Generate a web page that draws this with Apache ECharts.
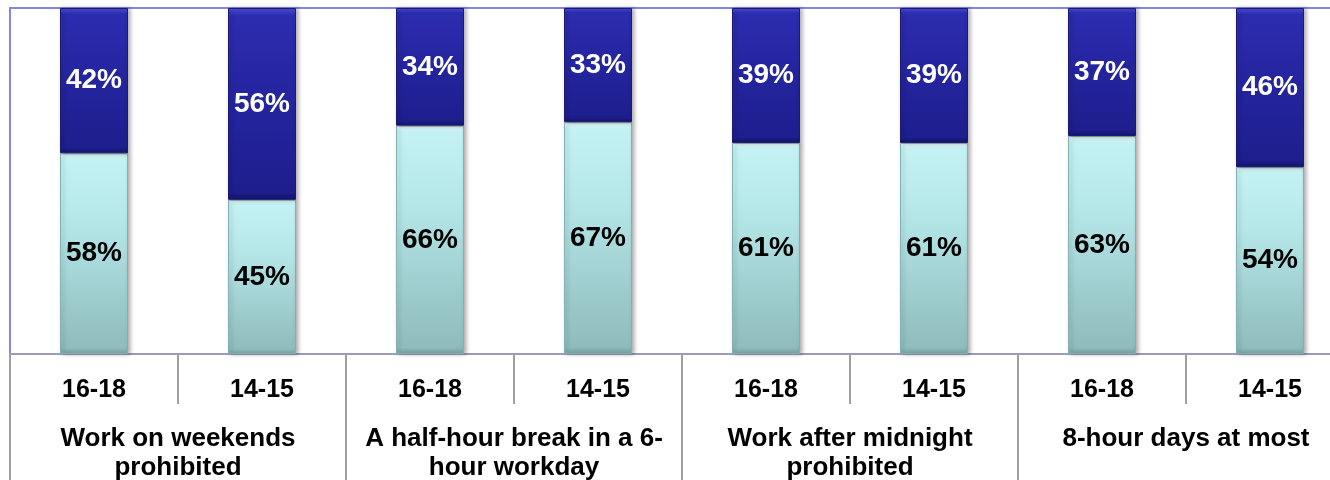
<!DOCTYPE html>
<html>
<head>
<meta charset="utf-8">
<script src="https://cdn.jsdelivr.net/npm/echarts@6/dist/echarts.min.js"></script>
<style>
html,body{margin:0;padding:0;background:#fff;overflow:hidden;}
#chart{width:1360px;height:480px;}
</style>
</head>
<body>
<div id="chart"></div>
<script>
// Age group per bar
const ageLabels = ['16-18', '14-15', '16-18', '14-15', '16-18', '14-15', '16-18', '14-15'];
// Rule groups (two bars each)
const groupLabels = ['Work on weekends\nprohibited', 'A half-hour break in a 6-\nhour workday', 'Work after midnight\nprohibited', '8-hour days at most'];
// Lower (light) segment percentages
const lowerPct = [58, 45, 66, 67, 61, 61, 63, 54];
// Upper (dark) segment percentages
const upperPct = [42, 56, 34, 33, 39, 39, 37, 46];

// 100% stacked: share of each bar's total
const lowerShare = lowerPct.map((v, i) => ({ value: v / (v + upperPct[i]) * 100, raw: v }));
const upperShare = upperPct.map((v, i) => ({ value: v / (v + lowerPct[i]) * 100, raw: v }));

const font = "'Liberation Sans', Arial, sans-serif";
const chart = echarts.init(document.getElementById('chart'), null, { renderer: 'canvas' });

chart.setOption({
  animation: false,
  backgroundColor: '#ffffff',
  grid: {
    left: 10, top: 8, width: 1344, height: 346,
    outerBoundsMode: 'none', containLabel: false,
    show: true, borderColor: '#8585e6', borderWidth: 2, backgroundColor: '#ffffff'
  },
  xAxis: [
    {
      type: 'category',
      data: ageLabels,
      position: 'bottom',
      axisLine: { show: true, lineStyle: { color: '#9c9cb8', width: 2 } },
      axisTick: { show: true, interval: 0, length: 50, lineStyle: { color: '#a0a0a0', width: 2 } },
      axisLabel: { interval: 0, margin: 24, fontFamily: font, fontWeight: 'bold', fontSize: 25, color: '#000' }
    },
    {
      type: 'category',
      data: groupLabels,
      position: 'bottom',
      axisLine: { show: false },
      axisTick: { show: true, interval: 0, length: 126, lineStyle: { color: '#a0a0a0', width: 2 } },
      axisLabel: { interval: 0, margin: 70, fontFamily: font, fontWeight: 'bold', fontSize: 26, lineHeight: 29, color: '#000', align: 'center', verticalAlign: 'top' }
    }
  ],
  yAxis: { type: 'value', min: 0, max: 100, show: false, splitLine: { show: false } },
  series: [
    {
      type: 'bar',
      name: 'lower',
      stack: 'total',
      xAxisIndex: 0,
      barWidth: 68,
      data: lowerShare,
      itemStyle: {
        color: new echarts.graphic.LinearGradient(0, 0, 0, 1, [
          { offset: 0, color: '#f2ffff' },
          { offset: 0.025, color: '#c4f2f4' },
          { offset: 0.35, color: '#b4e6e8' },
          { offset: 0.97, color: '#8fbcbc' },
          { offset: 1, color: '#7aa6a6' }
        ]),
        borderColor: '#86b0b0', borderWidth: 1,
        shadowColor: 'rgba(0,0,0,0.3)', shadowBlur: 4, shadowOffsetX: 2
      },
      label: {
        show: true, position: 'inside',
        formatter: p => p.data.raw + '%',
        fontFamily: font, fontWeight: 'bold', fontSize: 28, color: '#000'
      }
    },
    {
      type: 'bar',
      name: 'upper',
      stack: 'total',
      xAxisIndex: 0,
      barWidth: 68,
      data: upperShare,
      itemStyle: {
        color: new echarts.graphic.LinearGradient(0, 0, 0, 1, [
          { offset: 0, color: '#4f4fdc' },
          { offset: 0.04, color: '#2c2cb0' },
          { offset: 0.5, color: '#24249e' },
          { offset: 0.96, color: '#1e1e8e' },
          { offset: 1, color: '#14146a' }
        ]),
        borderColor: '#1a1a78', borderWidth: 1,
        shadowColor: 'rgba(0,0,0,0.3)', shadowBlur: 4, shadowOffsetX: 2
      },
      label: {
        show: true, position: 'inside',
        formatter: p => p.data.raw + '%',
        fontFamily: font, fontWeight: 'bold', fontSize: 28, color: '#ffffff'
      }
    }
  ]
});
</script>
</body>
</html>
